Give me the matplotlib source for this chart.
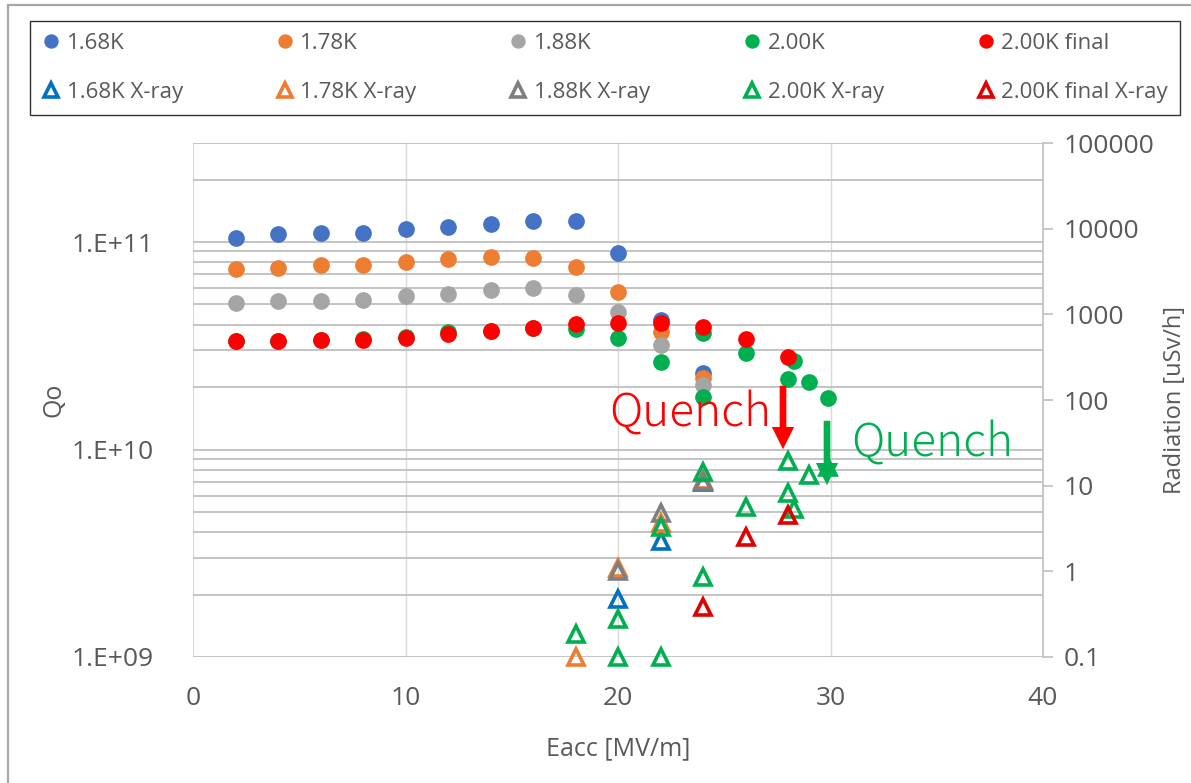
import matplotlib
matplotlib.use("Agg")
import matplotlib.pyplot as plt
from matplotlib.ticker import LogLocator, NullFormatter, FixedLocator
from matplotlib.patches import FancyArrowPatch, Rectangle
from matplotlib import font_manager

# ---------------- data ----------------
x_168 = [2, 4, 6, 8, 10, 12, 14, 16, 18, 20, 22, 24]
q_168 = [1.04e11, 1.09e11, 1.10e11, 1.11e11, 1.16e11, 1.18e11, 1.22e11, 1.26e11, 1.26e11, 8.85e10, 4.23e10, 2.35e10]

x_178 = [2, 4, 6, 8, 10, 12, 14, 16, 18, 20, 22, 24]
q_178 = [7.41e10, 7.52e10, 7.71e10, 7.71e10, 8.03e10, 8.24e10, 8.49e10, 8.37e10, 7.60e10, 5.73e10, 3.67e10, 2.20e10]

x_188 = [2, 4, 6, 8, 10, 12, 14, 16, 18, 20, 22, 24]
q_188 = [5.07e10, 5.20e10, 5.20e10, 5.28e10, 5.48e10, 5.62e10, 5.90e10, 6.00e10, 5.55e10, 4.59e10, 3.19e10, 2.05e10]

x_200 = [2, 4, 6, 8, 10, 12, 14, 16, 18, 20, 22, 24, 24, 26, 28, 28.3, 29, 29.9]
q_200 = [3.33e10, 3.33e10, 3.37e10, 3.39e10, 3.50e10, 3.69e10, 3.74e10, 3.84e10, 3.81e10, 3.44e10, 2.65e10,
         3.65e10, 1.80e10, 2.91e10, 2.19e10, 2.66e10, 2.12e10, 1.78e10]

x_200f = [2, 4, 6, 8, 10, 12, 14, 16, 18, 20, 22, 24, 26, 28]
q_200f = [3.33e10, 3.33e10, 3.37e10, 3.37e10, 3.46e10, 3.61e10, 3.74e10, 3.86e10, 4.03e10, 4.08e10, 4.08e10,
          3.88e10, 3.41e10, 2.78e10]

xr_x_168 = [20, 22, 24]
xr_168 = [0.47, 2.29, 11.1]

xr_x_178 = [18, 20, 22, 24]
xr_178 = [0.1, 1.09, 3.66, 11.7]

xr_x_188 = [20, 22, 24]
xr_188 = [1.0, 4.79, 11.4]

xr_x_200 = [18, 20, 20, 22, 22, 24, 24, 26, 28, 28, 28.3, 29, 29.9]
xr_200 = [0.185, 0.28, 0.1, 0.1, 3.29, 0.87, 14.6, 5.63, 19.5, 8.26, 5.37, 13.4, 16.6]

xr_x_200f = [24, 26, 28]
xr_200f = [0.38, 2.51, 4.57]

labels_q = ["1.68K", "1.78K", "1.88K", "2.00K", "2.00K final"]
labels_x = ["1.68K X-ray", "1.78K X-ray", "1.88K X-ray", "2.00K X-ray", "2.00K final X-ray"]
col_q = ["#4472C4", "#ED7D31", "#A5A5A5", "#00B050", "#FF0000"]
col_x = ["#0070C0", "#ED7D31", "#7F7F7F", "#00B050", "#E00000"]

x_ticks = [0, 10, 20, 30, 40]
q_ticks = [1e9, 1e10, 1e11]
q_ticklabels = ["1.E+09", "1.E+10", "1.E+11"]
r_ticks = [0.1, 1, 10, 100, 1000, 10000, 100000]
r_ticklabels = ["0.1", "1", "10", "100", "1000", "10000", "100000"]

# ---------------- fonts ----------------
avail = {f.name for f in font_manager.fontManager.ttflist}
main_font = "Open Sans" if "Open Sans" in avail else "DejaVu Sans"
leg_font = main_font
q_font = "Noto Sans CJK JP" if "Noto Sans CJK JP" in avail else main_font
plt.rcParams["font.family"] = [main_font, "DejaVu Sans"]
txt_col = "#595959"

fig = plt.figure(figsize=(11.91, 7.83), dpi=100)
fig.patch.set_facecolor("white")

# outer chart border
fig.patches.append(Rectangle((8 / 1191, -0.05), 1.2, 1 - 5 / 783 + 0.05, transform=fig.transFigure,
                             fill=False, edgecolor="#A6A6A6", lw=1.6, zorder=0))

ax = fig.add_axes([193 / 1191, 126 / 783, 850 / 1191, 514 / 783])
ax.set_xlim(0, 40)
ax.set_yscale("log")
ax.set_ylim(1e9, 3e11)
ax.set_xticks(x_ticks)
ax.set_xticklabels([str(t) for t in x_ticks])
ax.yaxis.set_major_locator(FixedLocator(q_ticks))
ax.set_yticklabels(q_ticklabels)
ax.yaxis.set_minor_locator(LogLocator(base=10, subs=range(2, 10)))
ax.yaxis.set_minor_formatter(NullFormatter())
ax.grid(axis="y", which="both", color="#BFBFBF", lw=1.3, zorder=0)
ax.grid(axis="x", which="major", color="#D9D9D9", lw=1.0, zorder=0)
for s in ax.spines.values():
    s.set_visible(False)
ax.tick_params(axis="both", which="both", length=0, labelsize=19, labelcolor=txt_col)
ax.tick_params(axis="x", pad=21)
ax.tick_params(axis="y", pad=28)
ax.set_xlabel("Eacc [MV/m]", fontsize=18, color=txt_col, labelpad=18)
ax.set_ylabel("Qo", fontsize=18, color=txt_col, labelpad=4)
ax.set_axisbelow(True)

ms = 11
handles = {}
for xs, ys, c, lab in zip([x_168, x_178, x_188, x_200, x_200f],
                          [q_168, q_178, q_188, q_200, q_200f], col_q, labels_q):
    h, = ax.plot(xs, ys, linestyle="none", marker="o", ms=ms, color=c, mec=c, label=lab, zorder=3)
    handles[lab] = h

ax2 = ax.twinx()
ax2.set_yscale("log")
ax2.set_ylim(0.1, 1e5)
ax2.yaxis.set_major_locator(FixedLocator(r_ticks))
ax2.set_yticklabels(r_ticklabels)
ax2.yaxis.set_minor_locator(FixedLocator([]))
for k, s in ax2.spines.items():
    s.set_visible(k == "right")
ax2.spines["right"].set_color("#BFBFBF")
ax2.spines["right"].set_linewidth(1.2)
ax2.tick_params(axis="y", which="major", direction="out", length=7, width=1.2, color="#BFBFBF",
                labelsize=19, labelcolor=txt_col, pad=8)
ax2.set_ylabel("Radiation [uSv/h]", fontsize=17, color=txt_col, labelpad=6)

for xs, ys, c, lab in zip([xr_x_168, xr_x_178, xr_x_188, xr_x_200, xr_x_200f],
                          [xr_168, xr_178, xr_188, xr_200, xr_200f], col_x, labels_x):
    h, = ax2.plot(xs, ys, linestyle="none", marker="^", ms=12, mfc="none", mec=c, mew=2.6,
                  label=lab, zorder=4, clip_on=False)
    handles[lab] = h

# annotations (figure fraction positions)
def arrow(x, y0, y1, c):
    p = FancyArrowPatch((x, y0), (x, y1), transform=fig.transFigure,
                        arrowstyle="simple,head_length=1.0,head_width=1.0,tail_width=0.3",
                        mutation_scale=16, color=c, lw=0, zorder=10)
    fig.patches.append(p)

arrow(783 / 1191, 1 - 383 / 783, 1 - 452 / 783, "#FF0000")
arrow(827 / 1191, 1 - 418 / 783, 1 - 488 / 783, "#00B050")
fig.text(690 / 1191, 1 - 413 / 783, "Quench", color="#FF0000", fontsize=33, ha="center", va="center",
         family=[q_font, "DejaVu Sans"], fontweight="light")
fig.text(932 / 1191, 1 - 443 / 783, "Quench", color="#00B050", fontsize=33, ha="center", va="center",
         family=[q_font, "DejaVu Sans"], fontweight="light")

# legend
order = []
for a, b in zip(labels_q, labels_x):
    order += [handles[a], handles[b]]
leg = fig.legend(handles=order, labels=[h.get_label() for h in order], ncol=5,
                 loc="lower left", bbox_to_anchor=(30 / 1191, 1 - 115 / 783, 1150 / 1191, 95 / 783),
                 mode="expand", borderaxespad=0, fancybox=False, frameon=True,
                 prop={"family": [leg_font, "DejaVu Sans"], "size": 16},
                 handlelength=0.8, handletextpad=0.3, labelspacing=1.25, borderpad=0.55,
                 markerscale=0.85)
leg.get_frame().set_edgecolor("#000000")
leg.get_frame().set_linewidth(1.0)
for t in leg.get_texts():
    t.set_color(txt_col)

fig.savefig("out.png", dpi=100)
